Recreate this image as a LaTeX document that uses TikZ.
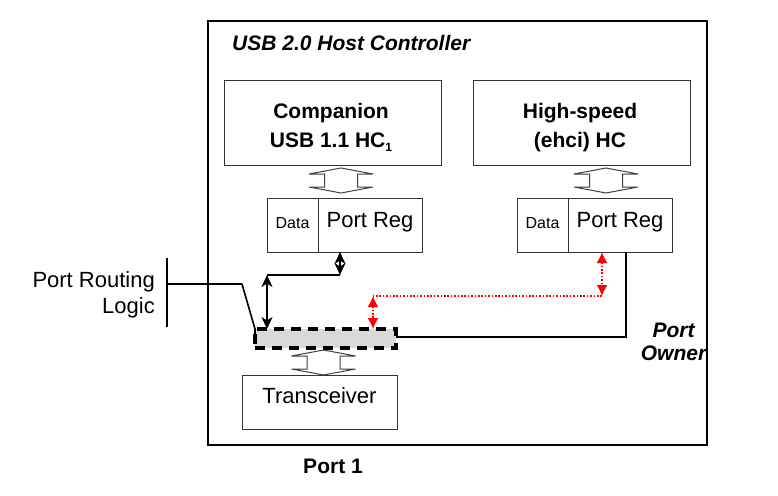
\documentclass[tikz,border=0pt]{standalone}
\usepackage{fontspec}
\setmainfont{Liberation Sans}
\usetikzlibrary{arrows.meta}
\begin{document}
\begin{tikzpicture}[x=1pt,y=-1pt,
  box/.style={draw=black!80, line width=1pt, fill=white, inner sep=0pt, outer sep=0pt, anchor=north west},
  bigbold/.style={font=\bfseries\fontsize{21}{25}\selectfont, anchor=base, inner sep=0pt},
  regtext/.style={font=\fontsize{22}{26}\selectfont, anchor=base, inner sep=0pt},
  smalltext/.style={font=\fontsize{16}{19}\selectfont, anchor=base, inner sep=0pt},
  conn/.style={line width=1.6pt, black},
  barrow/.style={conn, {Stealth[length=12pt,width=11pt,inset=3.5pt]}-{Stealth[length=12pt,width=11pt,inset=3.5pt]}},
  rdot/.style={red, line width=1.6pt, dash pattern=on 1.6pt off 1.8pt},
  rarrow/.style={rdot, {Latex[length=11pt,width=11pt]}-{Latex[length=11pt,width=11pt]}},
  hollow/.pic={\draw[black!75, line width=1pt, fill=white, line join=miter]
     (0,0) -- (32,6) -- (16.5,6) -- (16.5,19) -- (32,19) -- (0,25) -- (-32,19) -- (-16.5,19) -- (-16.5,6) -- (-32,6) -- cycle;}
]
\useasboundingbox (0,0) rectangle (778,495);

% outer controller box
\node[draw=black, line width=2pt, inner sep=0pt, outer sep=0pt, minimum width=499pt, minimum height=424pt, anchor=north west] (hc) at (208,21) {};
\node[font=\bfseries\itshape\fontsize{21}{25}\selectfont, anchor=base west, inner sep=0pt] (title) at (232,50) {USB 2.0 Host Controller};

% host controllers
\node[box, minimum width=217pt, minimum height=85pt] (comp) at (224,80) {};
\node[bigbold] (compA) at (331,118) {Companion};
\node[bigbold] (compB) at (331,147) {USB 1.1 HC\raisebox{-0.22em}{\fontsize{12}{12}\selectfont 1}};

\node[box, minimum width=217pt, minimum height=85pt] (ehci) at (473,80) {};
\node[bigbold] (ehciA) at (580,118) {High-speed};
\node[bigbold] (ehciB) at (580,147) {(ehci) HC};

% hollow arrows HC -> Port Reg
\pic at (341,168) {hollow};
\pic at (606,168) {hollow};

% port registers
\node[box, minimum width=51pt, minimum height=54pt] (dataL) at (267,198) {};
\node[box, minimum width=104pt, minimum height=54pt] (regL) at (318,198) {};
\node[smalltext] (dataLt) at (292.5,228) {Data};
\node[regtext] (regLt) at (370,227) {Port Reg};

\node[box, minimum width=51pt, minimum height=54pt] (dataR) at (517,198) {};
\node[box, minimum width=104pt, minimum height=54pt] (regR) at (568,198) {};
\node[smalltext] (dataRt) at (542.5,228) {Data};
\node[regtext] (regRt) at (620,227) {Port Reg};

% port multiplexer (dashed)
\node[draw=black, line width=3.3pt, dash pattern=on 10pt off 7pt, fill=black!15, inner sep=0pt, outer sep=0pt,
      minimum width=141pt, minimum height=19pt, anchor=north west] (mux) at (255,329) {};

% transceiver
\pic at (323.5,350) {hollow};
\node[box, minimum width=155pt, minimum height=54pt] (xcvr) at (242,375) {};
\node[regtext] (xcvrt) at (319.5,403) {Transceiver};

% port routing logic
\node[regtext, anchor=base east] (prlA) at (155,287) {Port Routing};
\node[regtext, anchor=base east] (prlB) at (155,313) {Logic};
\coordinate (barT) at (167,258);
\coordinate (barB) at (167,327);
\draw[conn] (barT) -- (barB);
\coordinate (rb) at (167,284);
\coordinate (rk) at (242,284);
\draw[conn, line join=round] (rb) -- (rk) -- (mux.north west) -- ++(0,11);

% companion data path
\coordinate (c1) at (340,275);
\coordinate (c2) at (267,275);
\draw[barrow] (regL.south -| c1) -- (c1);
\draw[conn] (c1) -- (c2);
\draw[barrow] (c2) -- (c2 |- mux.north);

% ehci data path (red dotted)
\coordinate (r1) at (602,296);
\coordinate (r2) at (373,296);
\draw[rarrow] (regR.south -| r1) -- (r1);
\draw[rdot] (r1) -- (r2);
\draw[rarrow] (r2) -- (r2 |- mux.north);

% port owner line
\coordinate (po) at (626,337);
\draw[conn] (regR.south -| po) -- (po) -- (mux.east |- po);
\node[font=\bfseries\itshape\fontsize{21}{25}\selectfont, anchor=base, inner sep=0pt] (ownA) at (673.5,337) {Port};
\node[font=\bfseries\itshape\fontsize{21}{25}\selectfont, anchor=base, inner sep=0pt] (ownB) at (673.5,360) {Owner};

% port label
\node[bigbold] (port1) at (333,473) {Port 1};
\end{tikzpicture}
\end{document}
